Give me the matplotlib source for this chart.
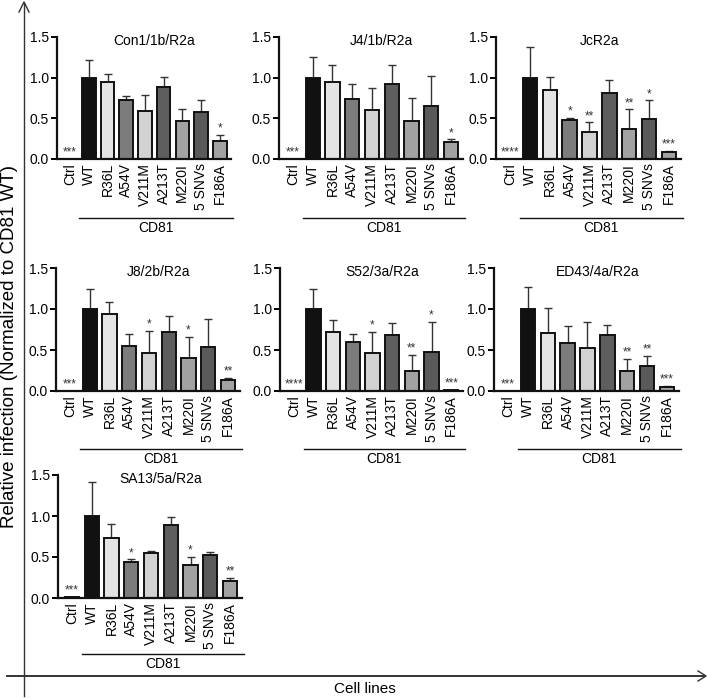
import matplotlib
matplotlib.use("Agg")
import matplotlib.pyplot as plt
from matplotlib.lines import Line2D
import matplotlib.transforms as mtransforms

plt.rcParams['font.family'] = ['Liberation Sans', 'DejaVu Sans']

categories = ["Ctrl", "WT", "R36L", "A54V", "V211M", "A213T", "M220I", "5 SNVs", "F186A"]
bar_colors = ["#ffffff", "#111111", "#e4e4e4", "#7c7c7c", "#d2d2d2", "#5e5e5e", "#a2a2a2", "#5a5a5a", "#a2a2a2"]

titles = ["Con1/1b/R2a", "J4/1b/R2a", "JcR2a", "J8/2b/R2a", "S52/3a/R2a", "ED43/4a/R2a", "SA13/5a/R2a"]

con1_vals = [0.005, 1.00, 0.95, 0.72, 0.59, 0.89, 0.47, 0.58, 0.22]
con1_err = [0.0, 0.22, 0.09, 0.05, 0.20, 0.12, 0.14, 0.14, 0.08]
con1_sig = ["***", "", "", "", "", "", "", "", "*"]

j4_vals = [0.005, 1.00, 0.95, 0.74, 0.60, 0.92, 0.47, 0.65, 0.21]
j4_err = [0.0, 0.25, 0.20, 0.18, 0.27, 0.23, 0.28, 0.37, 0.03]
j4_sig = ["***", "", "", "", "", "", "", "", "*"]

jc_vals = [0.003, 1.00, 0.85, 0.48, 0.33, 0.81, 0.37, 0.49, 0.08]
jc_err = [0.0, 0.38, 0.16, 0.03, 0.12, 0.16, 0.24, 0.23, 0.02]
jc_sig = ["****", "", "", "*", "**", "", "**", "*", "***"]

j8_vals = [0.005, 1.00, 0.94, 0.55, 0.46, 0.72, 0.40, 0.54, 0.13]
j8_err = [0.0, 0.25, 0.14, 0.15, 0.27, 0.20, 0.26, 0.34, 0.03]
j8_sig = ["***", "", "", "", "*", "", "*", "", "**"]

s52_vals = [0.003, 1.00, 0.72, 0.60, 0.46, 0.68, 0.25, 0.48, 0.008]
s52_err = [0.0, 0.24, 0.15, 0.09, 0.26, 0.15, 0.19, 0.36, 0.0]
s52_sig = ["****", "", "", "", "*", "", "**", "*", "***"]

ed43_vals = [0.005, 1.00, 0.71, 0.58, 0.53, 0.68, 0.24, 0.30, 0.05]
ed43_err = [0.0, 0.27, 0.30, 0.21, 0.31, 0.13, 0.15, 0.13, 0.01]
ed43_sig = ["***", "", "", "", "", "", "**", "**", "***"]

sa13_vals = [0.008, 1.00, 0.73, 0.44, 0.55, 0.89, 0.40, 0.52, 0.21]
sa13_err = [0.0, 0.42, 0.17, 0.03, 0.02, 0.10, 0.10, 0.04, 0.03]
sa13_sig = ["***", "", "", "*", "", "", "*", "", "**"]

yticks = [0.0, 0.5, 1.0, 1.5]
ytick_labels = ["0.0", "0.5", "1.0", "1.5"]
group_label = "CD81"

panels = [
    (con1_vals, con1_err, con1_sig),
    (j4_vals, j4_err, j4_sig),
    (jc_vals, jc_err, jc_sig),
    (j8_vals, j8_err, j8_sig),
    (s52_vals, s52_err, s52_sig),
    (ed43_vals, ed43_err, ed43_sig),
    (sa13_vals, sa13_err, sa13_sig),
]

W, H = 708, 698
fig = plt.figure(figsize=(W / 100, H / 100), dpi=100)

# pixel geometry: (left, right, top(1.5), bottom(0), cd81 line y)
geom = [
    (57, 231, 37, 159, 218),
    (279, 463, 37, 159, 218),
    (496, 681, 37, 159, 218),
    (56, 240, 268, 391, 449),
    (280, 463, 268, 391, 449),
    (494, 679, 268, 391, 449),
    (58, 242, 475, 598, 654),
]

for (vals, errs, sigs), title, (l, r, t, b, cy) in zip(panels, titles, geom):
    ax = fig.add_axes([l / W, (H - b) / H, (r - l) / W, (b - t) / H])
    x = list(range(len(categories)))
    ax.bar(x, vals, width=0.72, color=bar_colors, edgecolor="#111111", linewidth=1.4, zorder=2)
    ax.errorbar(x[1:], vals[1:], yerr=[[0] * (len(x) - 1), errs[1:]], fmt="none",
                ecolor="#333333", elinewidth=1.0, capsize=3, capthick=1.0, zorder=1)
    for xi, v, e, s in zip(x, vals, errs, sigs):
        if s:
            ax.text(xi, v + e + 0.005, s, ha="center", va="bottom", fontsize=8.5,
                    color="#333333", clip_on=False)
    ax.set_xlim(-0.7, 8.6)
    ax.set_ylim(0, 1.5)
    ax.set_yticks(yticks)
    ax.set_yticklabels(ytick_labels, fontsize=10)
    ax.set_xticks(x)
    ax.set_xticklabels(categories, rotation=90, fontsize=10)
    ax.tick_params(axis="x", length=0, pad=3)
    ax.tick_params(axis="y", length=4, width=1.4, pad=2)
    for sp in ["top", "right"]:
        ax.spines[sp].set_visible(False)
    for sp in ["left", "bottom"]:
        ax.spines[sp].set_linewidth(1.6)
        ax.spines[sp].set_color("#111111")
    ax.text(4.5, 1.45, title, ha="center", va="center", fontsize=10)
    tr = mtransforms.blended_transform_factory(ax.transData, fig.transFigure)
    x0 = 0.5
    x1 = 8.7
    ax.add_line(Line2D([x0, x1], [(H - cy) / H] * 2, transform=tr, color="#111111",
                       linewidth=1.0, clip_on=False))
    ax.text((x0 + x1) / 2, (H - cy - 10) / H, group_label, transform=tr, ha="center",
            va="center", fontsize=10, clip_on=False)

# outer axes arrows
fig.add_artist(Line2D([24 / W, 24 / W], [(H - 696) / H, (H - 3) / H], color="#333333", linewidth=1.0))
fig.add_artist(Line2D([7 / W, 705 / W], [(H - 676) / H, (H - 676) / H], color="#333333", linewidth=1.4))
fig.add_artist(Line2D([19 / W, 24 / W, 29 / W], [(H - 12) / H, (H - 2) / H, (H - 12) / H],
                      color="#333333", linewidth=1.0))
fig.add_artist(Line2D([698 / W, 706 / W, 698 / W], [(H - 671) / H, (H - 676) / H, (H - 681) / H],
                      color="#333333", linewidth=1.0))

fig.text(10 / W, (H - 347) / H, "Relative infection (Normalized to CD81 WT)", rotation=90,
         ha="center", va="center", fontsize=13.5)
fig.text(365 / W, (H - 689) / H, "Cell lines", ha="center", va="center", fontsize=11)

fig.savefig("out.png", dpi=100)
